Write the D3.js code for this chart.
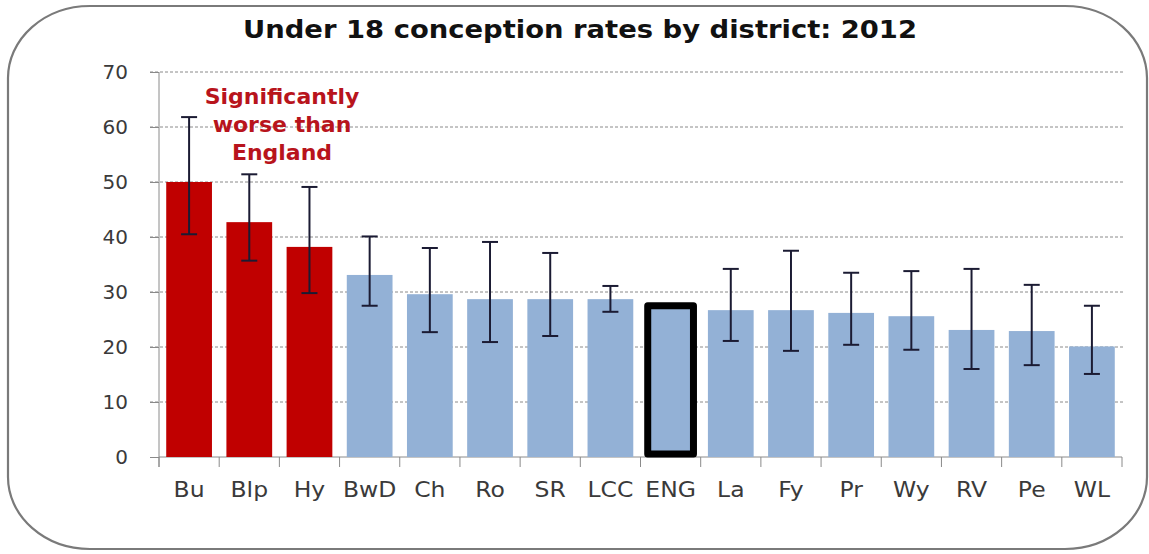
<!DOCTYPE html>
<html>
<head>
<meta charset="utf-8">
<script src="https://cdnjs.cloudflare.com/ajax/libs/d3/7.8.5/d3.min.js"></script>
<style>
body{margin:0;background:#fff;}
svg{display:block;}
</style>
</head>
<body>
<div id="chart"></div>
<script>
// districts, left to right
var districts = ['Bu','Blp','Hy','BwD','Ch','Ro','SR','LCC','ENG','La','Fy','Pr','Wy','RV','Pe','WL'];
// rate per 1000 females aged 15-17
var rates = [50.0,42.7,38.2,33.1,29.6,28.7,28.7,28.7,27.5,26.7,26.7,26.2,25.6,23.1,22.9,20.1];
// 95% confidence limits (none for England)
var upper = [61.8,51.4,49.1,40.1,38.0,39.1,37.1,31.1,null,34.2,37.5,33.5,33.8,34.2,31.3,27.5];
var lower = [40.5,35.7,29.8,27.5,22.7,20.9,22.0,26.4,null,21.1,19.3,20.4,19.5,16.0,16.7,15.1];
// comparison with England
var compare = ['worse','worse','worse','similar','similar','similar','similar','similar','england',
              'similar','similar','similar','similar','similar','similar','similar'];
var yTicks = [0,10,20,30,40,50,60,70];
var title = 'Under 18 conception rates by district: 2012';
var note = ['Significantly','worse than','England'];

var width = 1149, height = 554;
var margin = {left:159, right:27, top:72, bottom:97};

var svg = d3.select('#chart').append('svg')
	.attr('width',width)
	.attr('height',height);

// rounded frame
svg.append('rect')
	.attr('x',8).attr('y',6)
	.attr('width',1139).attr('height',543)
	.attr('rx',82).attr('ry',72)
	.style('fill','#fff')
	.style('stroke','#7a7a7a')
	.style('stroke-width',2.2);

var x = d3.scaleBand()
	.domain(districts)
	.range([margin.left, width-margin.right])
	.paddingInner(0.24)
	.paddingOuter(0.12);

var y = d3.scaleLinear()
	.domain([0,70])
	.range([height-margin.bottom, margin.top]);

var y0 = y(0);

// gridlines
svg.append('g')
	.selectAll('line')
	.data(yTicks.filter(function(d){ return d > 0; }))
	.enter().append('line')
	.attr('x1',margin.left-9)
	.attr('x2',width-margin.right+1)
	.attr('y1',function(d){ return y(d); })
	.attr('y2',function(d){ return y(d); })
	.style('stroke','#8a8a8a')
	.style('stroke-width',1)
	.style('stroke-dasharray','3,2');

// y axis
var yAxis = d3.axisLeft(y).tickValues(yTicks).tickSize(9).tickPadding(22);
var gy = svg.append('g')
	.attr('transform','translate('+margin.left+',0)')
	.call(yAxis);
gy.select('.domain').remove();
gy.append('line')
	.attr('x1',0).attr('x2',0)
	.attr('y1',margin.top).attr('y2',y0+10)
	.style('stroke','#8a8a8a');
gy.selectAll('.tick line').style('stroke','#8a8a8a');
gy.selectAll('.tick text')
	.style('font-family','DejaVu Sans')
	.style('font-size','20px')
	.style('fill','#3a3a3a');

// x axis: ticks between categories
var step = x.step();
var boundaries = d3.range(districts.length+1).map(function(i){
	return margin.left + i*step;
});
var gx = svg.append('g');
gx.append('line')
	.attr('x1',margin.left).attr('x2',width-margin.right)
	.attr('y1',y0).attr('y2',y0)
	.style('stroke','#8a8a8a');
gx.selectAll('line.tk')
	.data(boundaries)
	.enter().append('line')
	.attr('class','tk')
	.attr('x1',function(d){ return d; })
	.attr('x2',function(d){ return d; })
	.attr('y1',y0).attr('y2',y0+10)
	.style('stroke','#8a8a8a');
gx.selectAll('text')
	.data(districts)
	.enter().append('text')
	.attr('transform',function(d){
		return 'translate('+(x(d)+x.bandwidth()/2)+','+(y0+40)+') scale(1.12,1)';
	})
	.attr('text-anchor','middle')
	.style('font-family','DejaVu Sans')
	.style('font-size','21px')
	.style('fill','#3a3a3a')
	.text(function(d){ return d; });

// bars
svg.append('g')
	.selectAll('rect')
	.data(districts)
	.enter().append('rect')
	.attr('x',function(d){ return x(d); })
	.attr('width',x.bandwidth())
	.attr('y',function(d,i){ return y(rates[i]); })
	.attr('height',function(d,i){
		var h = y0 - y(rates[i]);
		return compare[i] == 'england' ? h-3 : h;
	})
	.style('fill',function(d,i){
		if(compare[i] == 'worse'){
			return '#c00000';
		}
		return '#93b1d6';
	})
	.style('stroke',function(d,i){ return compare[i] == 'england' ? '#000' : 'none'; })
	.style('stroke-width',7)
	.style('stroke-linejoin','round');

// error bars
var eb = svg.append('g')
	.selectAll('g')
	.data(districts.filter(function(d,i){ return upper[i] != null; }))
	.enter().append('g')
	.style('stroke','#1b1b33')
	.style('stroke-width',2);
eb.each(function(d){
	var i = districts.indexOf(d);
	var cx = x(d)+x.bandwidth()/2;
	var g = d3.select(this);
	g.append('line')
		.attr('x1',cx).attr('x2',cx)
		.attr('y1',y(upper[i])).attr('y2',y(lower[i]));
	[upper[i],lower[i]].forEach(function(v){
		g.append('line')
			.attr('x1',cx-8).attr('x2',cx+8)
			.attr('y1',y(v)).attr('y2',y(v));
	});
});

// annotation
svg.append('g')
	.selectAll('text')
	.data(note)
	.enter().append('text')
	.attr('x',282)
	.attr('y',function(d,i){ return 104+i*28; })
	.attr('text-anchor','middle')
	.style('font-family','DejaVu Sans')
	.style('font-weight','bold')
	.style('font-size','22px')
	.style('fill','#b8141c')
	.text(function(d){ return d; });

// title
svg.append('text')
	.attr('x',580)
	.attr('y',38)
	.attr('text-anchor','middle')
	.attr('textLength',674)
	.attr('lengthAdjust','spacingAndGlyphs')
	.style('font-family','DejaVu Sans')
	.style('font-weight','bold')
	.style('font-size','24px')
	.style('fill','#111')
	.text(title);
</script>
</body>
</html>
